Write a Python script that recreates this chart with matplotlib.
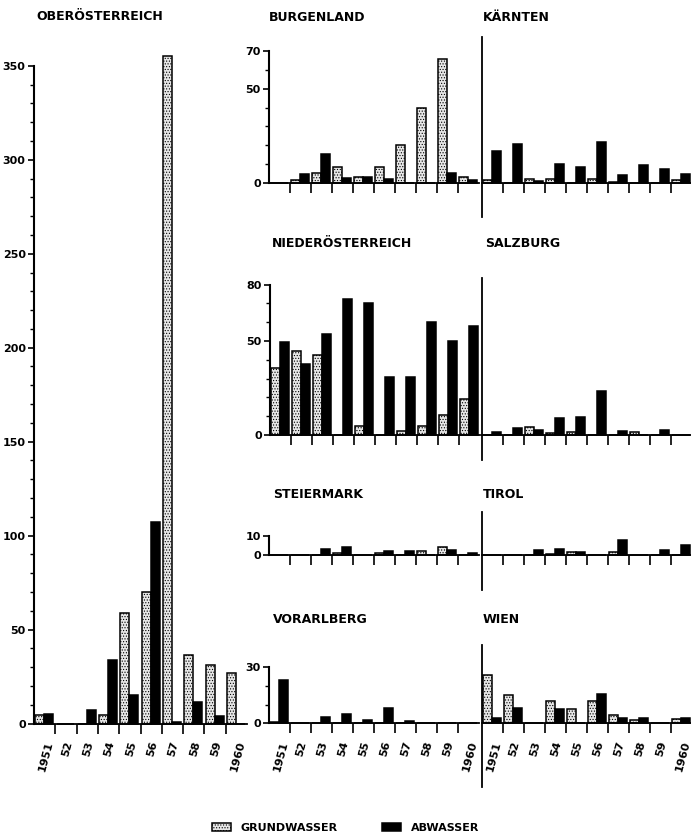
import numpy as np
import matplotlib
matplotlib.use("Agg")
import matplotlib.pyplot as plt
from matplotlib.patches import Patch
from matplotlib.lines import Line2D

plt.rcParams['font.family'] = ['DejaVu Sans']
plt.rcParams['hatch.linewidth'] = 0.5

years = ['1951', '52', '53', '54', '55', '56', '57', '58', '59', '1960']

ooe_gw = [4.4, 0, 0, 4.4, 59, 70, 355, 36.6, 31, 27]
ooe_ab = [5.3, 0, 7.4, 33.6, 15, 107, 1, 11.3, 4, 0]

bgl_gw = [0, 1.4, 5, 8.1, 3.2, 8.1, 20, 40, 65.7, 2.8]
bgl_ab = [0, 4.4, 15.2, 2.3, 3.2, 2, 0, 0, 5.3, 1.4]

ktn_gw = [1.2, 0, 1.6, 2.1, 0, 2.1, 0.3, 0, 0, 1.2]
ktn_ab = [16.8, 20.7, 0.9, 10, 8, 21.6, 3.9, 9.2, 7.4, 4.6]

noe_gw = [35.5, 44.7, 42.6, 0, 4.8, 0, 2.3, 4.8, 10.6, 19]
noe_ab = [49.6, 37.8, 53.5, 72.3, 70.4, 30.7, 30.7, 60, 50, 58]

sbg_gw = [0, 0, 4.4, 1.4, 1.6, 0, 0, 1.6, 0, 0]
sbg_ab = [1.6, 4.1, 2.8, 9, 10, 23.5, 2.5, 0, 2.8, 0]

stm_gw = [0, 0, 0, 1.2, 0, 1, 0, 2.3, 4.1, 0]
stm_ab = [0, 0, 3, 4.3, 0, 2.3, 2.3, 0, 2.9, 1.1]

tir_gw = [0, 0, 0, 0.4, 1.4, 0, 1.4, 0, 0, 0]
tir_ab = [0, 0, 2.5, 3, 1.4, 0, 7.8, 0, 2.9, 5.5]

vbg_gw = [0.9, 0, 0, 0, 0, 0.4, 0, 0, 0, 0]
vbg_ab = [23.2, 0, 3.2, 5, 2, 8.4, 1.4, 0, 0, 0]

wien_gw = [25.5, 14.8, 0, 12, 7.7, 12, 4.5, 1.8, 0, 2.3]
wien_ab = [2.7, 8, 0.3, 7.7, 0, 15.5, 2.7, 2.7, 0, 2.7]

W, H = 691, 836
S = 1.879  # pixels per unit, common scale

fig = plt.figure(figsize=(W / 100, H / 100), dpi=100)

GW_STYLE = dict(facecolor='#e6e6e6', edgecolor='black', hatch='......', linewidth=1.1)
AB_STYLE = dict(facecolor='black', edgecolor='black', linewidth=1.1)


def make_ax(left_px, zero_px, width_px, ymax):
    hpx = ymax * S
    return fig.add_axes([left_px / W, (H - zero_px) / H, width_px / W, hpx / H])


def draw(ax, gw, ab, ymax, left_col, majors=None, minors=None, xlabels=False, sep=None):
    x = np.arange(len(years))
    ax.bar(x + 0.06, gw, width=0.42, align='edge', clip_on=False, **GW_STYLE)
    ax.bar(x + 0.48, ab, width=0.42, align='edge', clip_on=False, **AB_STYLE)
    ax.set_xlim(0, len(years))
    ax.set_ylim(0, ymax)
    for s in ['top', 'right']:
        ax.spines[s].set_visible(False)
    ax.spines['bottom'].set_linewidth(1.3)
    ax.set_xticks(np.arange(1, len(years)))
    ax.tick_params(axis='x', direction='out', length=7, width=1.2, labelbottom=False)
    if xlabels:
        ax.set_xticks(x + 0.55, minor=True)
        ax.set_xticklabels(years, minor=True, rotation=75, fontsize=8,
                           fontweight='bold', ha='center', va='top')
        ax.tick_params(axis='x', which='minor', length=0, pad=12)
    if left_col:
        ax.spines['left'].set_linewidth(1.5)
        ax.set_yticks(majors)
        ax.set_yticklabels([str(v) for v in majors], fontsize=8, fontweight='bold')
        if minors is not None:
            ax.set_yticks(minors, minor=True)
        ax.tick_params(axis='y', which='major', direction='out', length=4, width=1.2, pad=2)
        ax.tick_params(axis='y', which='minor', direction='out', length=3, width=1.0)
    else:
        ax.spines['left'].set_visible(False)
        ax.set_yticks([])
        if sep is not None:
            xs = 481.5 / W
            fig.add_artist(Line2D([xs, xs], [1 - sep[0] / H, 1 - sep[1] / H],
                                  transform=fig.transFigure, color='black', lw=1.3))


# Oberösterreich
ax = make_ax(34, 723.5, 213, 350)
draw(ax, ooe_gw, ooe_ab, 350, True, majors=list(range(0, 351, 50)),
     minors=list(range(0, 351, 10)), xlabels=True)

# Burgenland / Kärnten
ax = make_ax(269, 182.7, 210, 70)
draw(ax, bgl_gw, bgl_ab, 70, True, majors=[0, 50, 70], minors=list(range(0, 71, 10)))
ax = make_ax(482, 182.5, 210, 70)
draw(ax, ktn_gw, ktn_ab, 70, False, sep=(37, 217))

# Niederösterreich / Salzburg
ax = make_ax(270, 435, 210, 80)
draw(ax, noe_gw, noe_ab, 80, True, majors=[0, 50, 80], minors=list(range(0, 81, 10)))
ax = make_ax(482, 435.3, 210, 80)
draw(ax, sbg_gw, sbg_ab, 80, False, sep=(278, 460))

# Steiermark / Tirol
ax = make_ax(269, 555, 210, 10)
draw(ax, stm_gw, stm_ab, 10, True, majors=[0, 10])
ax = make_ax(482, 555, 210, 10)
draw(ax, tir_gw, tir_ab, 10, False, sep=(512, 590))

# Vorarlberg / Wien
ax = make_ax(269, 723.3, 210, 30)
draw(ax, vbg_gw, vbg_ab, 30, True, majors=[0, 30], minors=list(range(0, 31, 10)), xlabels=True)
ax = make_ax(482, 723.3, 210, 30)
draw(ax, wien_gw, wien_ab, 30, False, xlabels=True, sep=(645, 787))

titles = [
    ("OBERÖSTERREICH", 36, 20),
    ("BURGENLAND", 269, 21),
    ("KÄRNTEN", 483, 21),
    ("NIEDERÖSTERREICH", 272, 247),
    ("SALZBURG", 485, 247),
    ("STEIERMARK", 273, 498),
    ("TIROL", 483, 498),
    ("VORARLBERG", 273, 623),
    ("WIEN", 483, 623),
]
for t, xp, yp in titles:
    fig.text(xp / W, 1 - yp / H, t, fontsize=9, fontweight='bold',
             ha='left', va='baseline')

handles = [Patch(**GW_STYLE), Patch(**AB_STYLE)]
fig.legend(handles, ['GRUNDWASSER', 'ABWASSER'], loc='center',
           bbox_to_anchor=(0.5, 1 - 828 / H), ncol=2, frameon=False,
           prop=dict(weight='bold', size=8), handlelength=1.7,
           handleheight=0.7, handletextpad=0.9, columnspacing=4.0,
           borderpad=0, borderaxespad=0)

fig.savefig('out.png', dpi=100)
